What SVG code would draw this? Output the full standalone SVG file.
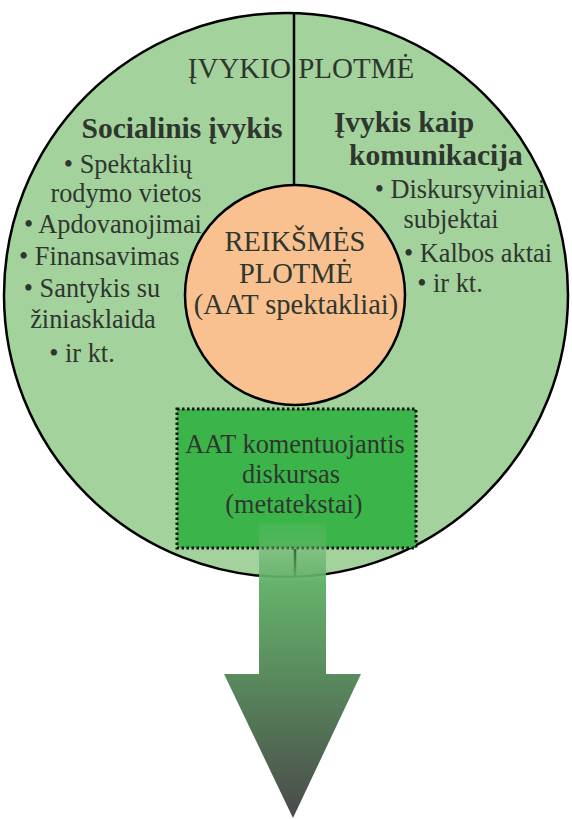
<svg xmlns="http://www.w3.org/2000/svg" width="572" height="819" viewBox="0 0 572 819">
<style>
text{font-family:"Liberation Serif","Times New Roman",serif;fill:#2f362f}
.t{font-size:29px}
.h{font-size:29.5px;font-weight:bold}
.b{font-size:26.3px}
.o{font-size:28.5px}
.m{text-anchor:middle}
.ln{stroke:#000;stroke-width:2.5;fill:none}
</style>
<defs>
<linearGradient id="ag" gradientUnits="userSpaceOnUse" x1="0" y1="523" x2="0" y2="818">
<stop offset="0" stop-color="#6cbc71" stop-opacity="0.2"/>
<stop offset="0.1" stop-color="#67b36c" stop-opacity="0.6"/>
<stop offset="0.2" stop-color="#66b36b" stop-opacity="1"/>
<stop offset="0.5" stop-color="#5a8d5e"/>
<stop offset="1" stop-color="#4a4a4a"/>
</linearGradient>
</defs>
<g id="event-plane">
<circle cx="286" cy="295" r="282" fill="#a3d29c" stroke="#000" stroke-width="2.5"/>
<line class="ln" x1="294" y1="13" x2="294" y2="186"/>
<text class="t m" x="301" y="78">ĮVYKIO PLOTMĖ</text>
</g>
<g id="social-event">
<text class="h m" x="182" y="138">Socialinis įvykis</text>
<text class="b m" x="128" y="173">• Spektaklių</text>
<text class="b m" x="126" y="202">rodymo vietos</text>
<text class="b" x="24" y="233">• Apdovanojimai</text>
<text class="b" x="19" y="265">• Finansavimas</text>
<text class="b m" x="92" y="297">• Santykis su</text>
<text class="b m" x="93" y="328">žiniasklaida</text>
<text class="b m" x="82" y="362">• ir kt.</text>
</g>
<g id="communication-event">
<text class="h m" x="404" y="132">Įvykis kaip</text>
<text class="h m" x="436" y="165">komunikacija</text>
<text class="b m" x="460" y="198">• Diskursyviniai</text>
<text class="b m" x="451" y="228">subjektai</text>
<text class="b m" x="478" y="262">• Kalbos aktai</text>
<text class="b m" x="450" y="292">• ir kt.</text>
</g>
<g id="meaning-plane">
<circle cx="295" cy="295" r="110" fill="#f9c18f" stroke="#000" stroke-width="2.5"/>
<text class="o m" x="295" y="251">REIKŠMĖS</text>
<text class="o m" x="296" y="283">PLOTMĖ</text>
<text class="o m" x="296" y="314">(AAT spektakliai)</text>
</g>
<g id="commentary-discourse">
<rect x="177" y="409" width="239" height="139" fill="#3bb44a" stroke="#111" stroke-width="3" stroke-dasharray="2.5 2.5"/>
<text class="b m" x="295" y="453">AAT komentuojantis</text>
<text class="b m" x="291" y="483">diskursas</text>
<text class="b m" x="294" y="513">(metatekstai)</text>
<line class="ln" x1="295" y1="549" x2="295" y2="577"/>
</g>
<g id="connectors">
<path d="M259 523 H326 V674 H361 L293 818 L224 674 H259 Z" fill="url(#ag)"/>
</g>
</svg>
